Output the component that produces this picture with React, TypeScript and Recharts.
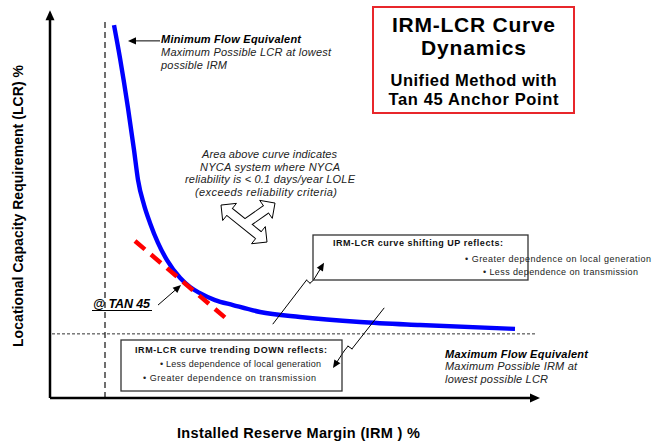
import React from "react";
import { ComposedChart, Line, XAxis, YAxis, ReferenceLine, ReferenceDot } from "recharts";

const W = 652;
const H = 443;
const FONT = "'Liberation Sans', Arial, sans-serif";

type Pt = [number, number];

// IRM-LCR curve (IRM and LCR on a 0-100 scale)
const curveIrm = [12.8, 14.0, 15.6, 16.8, 17.6, 18.8, 20.0, 21.6, 23.4, 26.0, 28.0, 30.0, 33.0, 36.6, 42.0, 50.0, 62.0, 74.0, 93.0];
const curveLcr = [97.1, 88.5, 75.5, 64.6, 56.8, 50.3, 45.6, 40.4, 35.9, 31.3, 28.9, 27.3, 25.5, 24.2, 22.4, 21.1, 19.8, 19.0, 18.0];

// tan 45 line
const tanIrm = [17.0, 35.6];
const tanLcr = [40.9, 20.3];

// minimum IRM (dashed) and minimum LCR (dotted) bounds
const minIrm = 11;
const minIrmTop = 98.4;
const minLcr = 16.7;
const minLcrRange: Pt = [0.4, 97];

// axes with arrowheads
const yAxisArrow: Pt[] = [[0, 0], [0, 101]];
const xAxisArrow: Pt[] = [[0, 0], [98, 0]];

// annotation pointers
const minFlowArrow: Pt[] = [[22, 93], [15.6, 93]];
const tanArrow: Pt[] = [[21.6, 24.2], [26.2, 29.4]];
const upArrow: Pt[] = [[44.6, 19.3], [51.3, 30.7], [52.0, 29.9], [52.7, 30.7], [54.8, 35.2]];
const downArrow: Pt[] = [[66.8, 23.4], [60.4, 12.8], [59.6, 13.5], [58.8, 12.2], [56.6, 7.8]];

// "area above curve" block arrow anchor
const areaArrowAt: Pt = [39, 45.3];

const curveData = curveIrm.map((x, i) => ({ x, y: curveLcr[i] }));
const tanData = tanIrm.map((x, i) => ({ x, y: tanLcr[i] }));

function arrowShape(head: number, sw: number, color = "#000") {
  return (p: any) => {
    const { x1, y1, x2, y2 } = p;
    const dx = x2 - x1;
    const dy = y2 - y1;
    const L = Math.hypot(dx, dy) || 1;
    const ux = dx / L;
    const uy = dy / L;
    if (!head) {
      return <line x1={x1} y1={y1} x2={x2} y2={y2} stroke={color} strokeWidth={sw} strokeLinecap="round" />;
    }
    const bx = x2 - ux * head;
    const by = y2 - uy * head;
    const hw = head * 0.45;
    return (
      <g>
        <line x1={x1} y1={y1} x2={bx + ux} y2={by + uy} stroke={color} strokeWidth={sw} />
        <polygon
          points={`${x2},${y2} ${bx - uy * hw},${by + ux * hw} ${bx + uy * hw},${by - ux * hw}`}
          fill={color}
        />
      </g>
    );
  };
}

function arrowPath(pts: Pt[], head: number, sw: number, key: string) {
  return pts.slice(1).map((p, i) => (
    <ReferenceLine
      key={`${key}-${i}`}
      segment={[
        { x: pts[i][0], y: pts[i][1] },
        { x: p[0], y: p[1] },
      ]}
      ifOverflow="visible"
      shape={arrowShape(i === pts.length - 2 ? head : 0, sw)}
    />
  ));
}

// outlined three-headed block arrow
function BlockArrow(p: any) {
  const { cx, cy } = p;
  const sh = 4;
  const hl = 11;
  const hh = 11;
  const ul: Pt = [-24, -19];
  const lr: Pt = [22, 18];
  const ur: Pt = [30, -21];
  const unit = (a: Pt, b: Pt): Pt => {
    const l = Math.hypot(b[0] - a[0], b[1] - a[1]);
    return [(b[0] - a[0]) / l, (b[1] - a[1]) / l];
  };
  const head = (tip: Pt, d: Pt) => {
    const bx = tip[0] - d[0] * hl;
    const by = tip[1] - d[1] * hl;
    return {
      base: [bx, by] as Pt,
      pts: `${tip[0]},${tip[1]} ${bx - d[1] * hh},${by + d[0] * hh} ${bx + d[1] * hh},${by - d[0] * hh}`,
    };
  };
  const dMain = unit(ul, lr);
  const hUl = head(ul, [-dMain[0], -dMain[1]]);
  const hLr = head(lr, dMain);
  const dBr = unit([0, 0], ur);
  const hUr = head(ur, dBr);
  const ext = (b: Pt, d: Pt, k: number): Pt => [b[0] + d[0] * k, b[1] + d[1] * k];
  const a1 = ext(hUl.base, [-dMain[0], -dMain[1]], 1);
  const a2 = ext(hLr.base, dMain, 1);
  const b2 = ext(hUr.base, dBr, 1);
  return (
    <g transform={`translate(${cx},${cy})`}>
      <line x1={hUl.base[0]} y1={hUl.base[1]} x2={hLr.base[0]} y2={hLr.base[1]} stroke="#000" strokeWidth={sh * 2 + 2} />
      <line x1={0} y1={0} x2={hUr.base[0]} y2={hUr.base[1]} stroke="#000" strokeWidth={sh * 2 + 2} />
      {[hUl, hLr, hUr].map((h, i) => (
        <polygon key={i} points={h.pts} fill="#fff" stroke="#000" strokeWidth={1} />
      ))}
      <line x1={a1[0]} y1={a1[1]} x2={a2[0]} y2={a2[1]} stroke="#fff" strokeWidth={sh * 2} />
      <line x1={0} y1={0} x2={b2[0]} y2={b2[1]} stroke="#fff" strokeWidth={sh * 2} />
    </g>
  );
}

type TxtProps = {
  x: number;
  y: number;
  w: number;
  size: number;
  bold?: boolean;
  italic?: boolean;
  anchor?: "start" | "middle";
  fill?: string;
  children: string;
};

function Txt({ x, y, w, size, bold, italic, anchor = "start", fill = "#000", children }: TxtProps) {
  return (
    <text
      x={x}
      y={y}
      fontSize={size}
      fontWeight={bold ? 700 : 400}
      fontStyle={italic ? "italic" : "normal"}
      textAnchor={anchor}
      textLength={w}
      lengthAdjust="spacing"
      fill={fill}
    >
      {children}
    </text>
  );
}

export default function App() {
  return (
    <div style={{ position: "absolute", left: 0, top: 0, width: W, height: H, background: "#fff", fontFamily: FONT }}>
      <ComposedChart width={W} height={H} margin={{ top: 14, right: 102, bottom: 45, left: 50 }}>
        <XAxis type="number" dataKey="x" domain={[0, 100]} allowDataOverflow hide />
        <YAxis type="number" dataKey="y" domain={[0, 100]} allowDataOverflow hide />
        <ReferenceLine
          segment={[{ x: minIrm, y: 0 }, { x: minIrm, y: minIrmTop }]}
          stroke="#222"
          strokeWidth={1.3}
          strokeDasharray="6 4"
          ifOverflow="visible"
        />
        <ReferenceLine
          segment={[{ x: minLcrRange[0], y: minLcr }, { x: minLcrRange[1], y: minLcr }]}
          stroke="#333"
          strokeWidth={1}
          strokeDasharray="3 2"
          ifOverflow="visible"
        />
        <Line
          data={curveData}
          dataKey="y"
          type="monotone"
          stroke="#0000ff"
          strokeWidth={4.4}
          dot={false}
          isAnimationActive={false}
        />
        <Line
          data={tanData}
          dataKey="y"
          type="linear"
          stroke="#ff0000"
          strokeWidth={4.5}
          strokeDasharray="13 8"
          dot={false}
          isAnimationActive={false}
        />
        {arrowPath(yAxisArrow, 10, 2.5, "yax")}
        {arrowPath(xAxisArrow, 10, 2.5, "xax")}
        {arrowPath(minFlowArrow, 8, 1, "min")}
        {arrowPath(tanArrow, 8, 1, "tan")}
        {arrowPath(upArrow, 8, 1, "up")}
        {arrowPath(downArrow, 8, 1, "down")}
        <ReferenceDot x={areaArrowAt[0]} y={areaArrowAt[1]} r={0} ifOverflow="visible" shape={BlockArrow} />
      </ComposedChart>
      <svg
        width={W}
        height={H}
        style={{ position: "absolute", left: 0, top: 0, pointerEvents: "none", fontFamily: FONT }}
      >
        <rect x={373} y={7} width={201} height={106} fill="none" stroke="#e8262b" strokeWidth={2} />
        <Txt x={473.5} y={32} w={163} size={21} bold anchor="middle">IRM-LCR Curve</Txt>
        <Txt x={473.5} y={55} w={105} size={21} bold anchor="middle">Dynamics</Txt>
        <Txt x={473.5} y={86} w={166} size={16.5} bold anchor="middle">Unified Method with</Txt>
        <Txt x={473.5} y={105} w={170} size={16.5} bold anchor="middle">Tan 45 Anchor Point</Txt>

        <Txt x={161} y={43} w={140} size={11} bold italic>Minimum Flow Equivalent</Txt>
        <Txt x={161} y={56} w={170} size={11} italic fill="#222">Maximum Possible LCR at lowest</Txt>
        <Txt x={161} y={69} w={66} size={11} italic fill="#222">possible IRM</Txt>

        <Txt x={202} y={158} w={135} size={11} italic fill="#222">Area above curve indicates</Txt>
        <Txt x={200} y={170.5} w={140} size={11} italic fill="#222">NYCA system where NYCA</Txt>
        <Txt x={185} y={183} w={170} size={11} italic fill="#222">reliability is &lt; 0.1 days/year LOLE</Txt>
        <Txt x={195} y={195.5} w={142} size={11} italic fill="#222">(exceeds reliability criteria)</Txt>

        <Txt x={93} y={308} w={57} size={12.5} bold italic>@ TAN 45</Txt>
        <line x1={92} y1={310.5} x2={152} y2={310.5} stroke="#000" strokeWidth={1.2} />

        <rect x={313} y={235} width={215} height={45} fill="none" stroke="#333" strokeWidth={1.3} />
        <Txt x={333} y={246} w={170} size={9} bold fill="#111">IRM-LCR curve shifting UP reflects:</Txt>
        <Txt x={465} y={262} w={186} size={9} fill="#222">• Greater dependence on local generation</Txt>
        <Txt x={483} y={275} w={155} size={9} fill="#222">• Less dependence on transmission</Txt>

        <rect x={121} y={340} width={221} height={51} fill="none" stroke="#333" strokeWidth={1.3} />
        <Txt x={135} y={353} w={192} size={9} bold fill="#111">IRM-LCR curve trending DOWN reflects:</Txt>
        <Txt x={160} y={367} w={161} size={9} fill="#222">• Less dependence of local generation</Txt>
        <Txt x={143} y={381} w={173} size={9} fill="#222">• Greater dependence on transmission</Txt>

        <Txt x={445} y={357.5} w={143} size={11} bold italic>Maximum Flow Equivalent</Txt>
        <Txt x={445} y={370} w={132} size={11} italic fill="#222">Maximum Possible IRM at</Txt>
        <Txt x={445} y={382.5} w={103} size={11} italic fill="#222">lowest possible LCR</Txt>

        <Txt x={177} y={438} w={243} size={14.5} bold>Installed Reserve Margin (IRM ) %</Txt>
        <g transform="translate(22.5,206) rotate(-90)">
          <Txt x={0} y={0} w={282} size={14} bold anchor="middle">Locational Capacity Requirement (LCR) %</Txt>
        </g>
      </svg>
    </div>
  );
}
